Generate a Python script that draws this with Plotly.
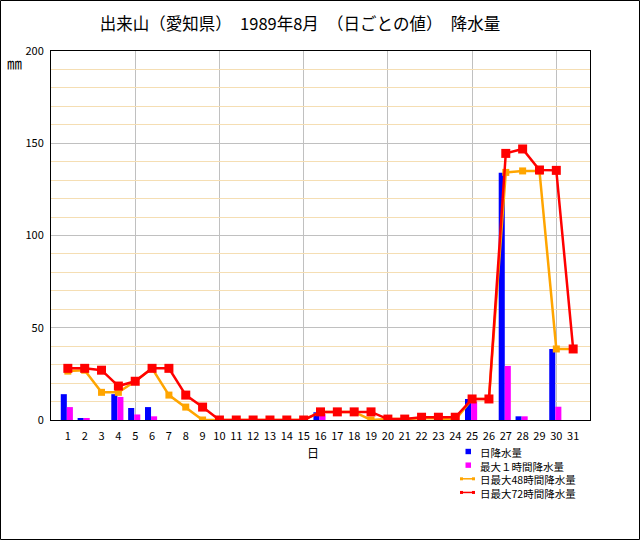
import plotly.graph_objects as go

days = list(range(1, 32))
daily = [14, 1, 0, 14, 6.5, 7, 0, 0, 0, 0, 0, 0, 0, 0, 0, 4.2, 0, 0, 0, 0, 0, 0, 0, 0, 11.4, 0, 134, 2, 0, 38.5, 0]
max1h = [7, 1, 0, 12.5, 3, 2, 0, 0, 0, 0, 0, 0, 0, 0, 0, 3.3, 0, 0, 0, 0, 0, 0, 0, 0, 10, 0, 29.3, 2, 0, 7.2, 0]
max48h = [26.5, 27, 15, 15, 21, 28, 13.5, 7, 0, 0, 0, 0, 0, 0, 0, 4.4, 4.4, 4.4, 0, 0.5, 0.5, 1, 1, 0,
          11.4, 11.4, 134.2, 135, 135, 38.5, 38.5]
max72h = [28, 28, 27, 18.4, 21, 28, 28, 13.5, 7, 0, 0, 0, 0, 0, 0, 4.4, 4.4, 4.4, 4.4, 0.5, 0.5, 1.5, 1.5, 1.5,
          11.4, 11.4, 144.5, 146.9, 135.5, 135.3, 38.5]
names = ["日降水量", "最大１時間降水量", "日最大48時間降水量", "日最大72時間降水量"]
colors = ["#0000FF", "#FF00FF", "#FFA500", "#FF0000"]
title = "出来山（愛知県）　1989年8月　（日ごとの値）　降水量"

FONT = "Noto Sans CJK JP"
L, R, T, B = 51, 590, 51, 420
W, H = R - L, B - T


def px(x):
    return (x - L) / W


def py(y):
    return (B - y) / H


fig = go.Figure()
fig.add_trace(go.Bar(x=days, y=daily, name=names[0], marker=dict(color=colors[0], line=dict(width=0)),
                     offset=-0.42, width=0.36, showlegend=False))
fig.add_trace(go.Bar(x=days, y=max1h, name=names[1], marker=dict(color=colors[1], line=dict(width=0)),
                     offset=-0.06, width=0.36, showlegend=False))
fig.add_trace(go.Scatter(x=days, y=max48h, name=names[2], mode="lines+markers",
                         line=dict(color=colors[2], width=2.5),
                         marker=dict(symbol="square", size=7, color=colors[2]), showlegend=False))
fig.add_trace(go.Scatter(x=days, y=max72h, name=names[3], mode="lines+markers",
                         line=dict(color=colors[3], width=2.5),
                         marker=dict(symbol="square", size=9, color=colors[3]), showlegend=False))

shapes = [
    # outer frame
    dict(type="rect", xref="paper", yref="paper", x0=px(0.5), x1=px(639.5), y0=py(0.5), y1=py(539.5),
         line=dict(color="black", width=1)),
]
annotations = [
    dict(text="㎜", xref="paper", yref="paper", x=px(14), y=py(62), showarrow=False,
         font=dict(family=FONT, size=15, color="black"), xanchor="center", yanchor="middle"),
    dict(text="日", xref="paper", yref="paper", x=px(313), y=py(452), showarrow=False,
         font=dict(family=FONT, size=12, color="black"), xanchor="center", yanchor="middle"),
]

# manual legend: symbols as shapes, labels as one multi-line text block
LEG_FS = 10.5
line_h = LEG_FS * 1.3
y_first = 451.5
ys = [y_first + i * line_h for i in range(len(names))]
for i, c in enumerate(colors):
    yc = ys[i]
    if i < 2:
        shapes.append(dict(type="rect", xref="paper", yref="paper", x0=px(465.5), x1=px(471),
                           y0=py(yc - 2.7), y1=py(yc + 2.7), fillcolor=c, line=dict(width=0)))
    else:
        shapes.append(dict(type="line", xref="paper", yref="paper", x0=px(460), x1=px(475),
                           y0=py(yc), y1=py(yc), line=dict(color=c, width=1.5)))
        for xs in (460, 472):
            shapes.append(dict(type="rect", xref="paper", yref="paper", x0=px(xs), x1=px(xs + 3),
                               y0=py(yc - 1.5), y1=py(yc + 1.5), fillcolor=c, line=dict(width=0)))
annotations.append(dict(text="<br>".join(names), xref="paper", yref="paper", x=px(479),
                        y=py(y_first - line_h / 2 - 1), showarrow=False, align="left",
                        font=dict(family=FONT, size=LEG_FS, color="black"), xanchor="left", yanchor="top",
                        borderpad=0))

fig.update_layout(
    width=640, height=540,
    margin=dict(l=L, r=640 - R, t=T, b=540 - B),
    paper_bgcolor="white", plot_bgcolor="white",
    title=dict(text=title, x=300 / 640, y=1 - 24 / 540, xanchor="center", yanchor="middle",
               font=dict(family=FONT, size=16.5, color="black")),
    font=dict(family=FONT, size=11, color="black"),
    barmode="overlay",
    shapes=shapes,
    annotations=annotations,
    xaxis=dict(range=[0, 32], tickmode="array", tickvals=days, ticktext=[str(d) for d in days],
               showgrid=False, zeroline=False, showline=True, linecolor="black", linewidth=1, mirror=True,
               ticks="", tickfont=dict(size=11, family=FONT), ticklabelstandoff=6,
               minor=dict(tick0=0, dtick=5, showgrid=True, gridcolor="#C0C0C0", gridwidth=1, ticks="")),
    yaxis=dict(range=[0, 200], tickmode="linear", tick0=0, dtick=50,
               showgrid=True, gridcolor="#C0C0C0", gridwidth=1, zeroline=False,
               showline=True, linecolor="black", linewidth=1, mirror=True, ticks="",
               tickfont=dict(size=11, family=FONT), ticklabelstandoff=4,
               minor=dict(tick0=0, dtick=10, showgrid=True, gridcolor="#F5DEB3", gridwidth=1, ticks="")),
)

fig.write_html("out.html", config={"displayModeBar": False},
               post_script="document.body.style.margin='0';document.body.style.padding='0';")
